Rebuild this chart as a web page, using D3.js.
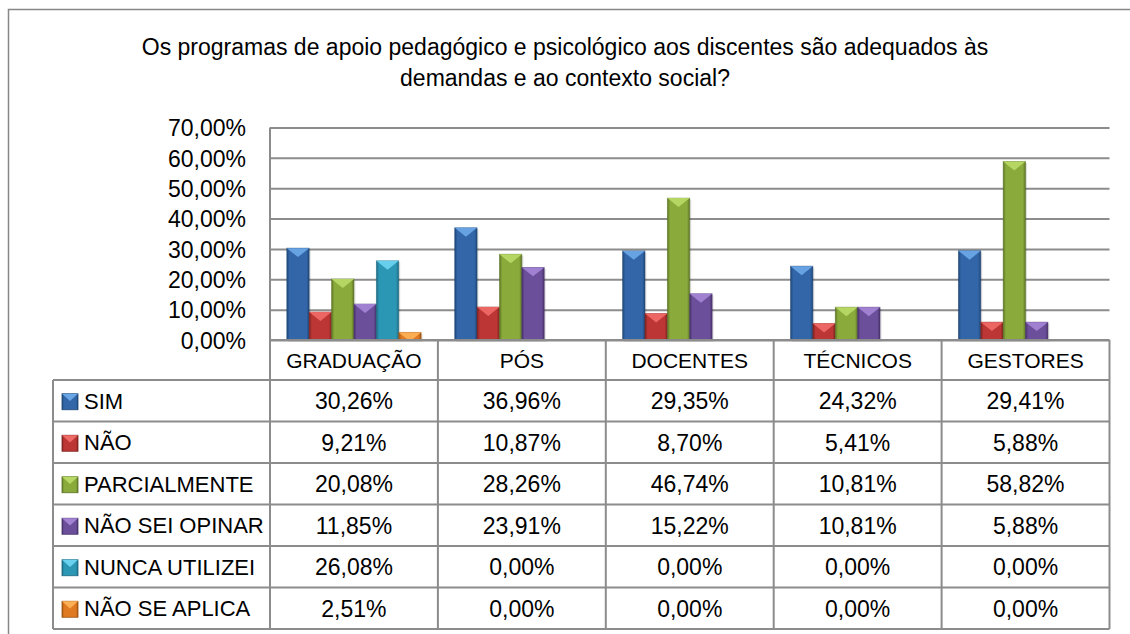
<!DOCTYPE html>
<html>
<head>
<meta charset="utf-8">
<script src="https://cdn.jsdelivr.net/npm/d3@7"></script>
<style>
  body { margin: 0; background: #fff; }
  svg text { font-family: "Liberation Sans", Arial, sans-serif; fill: #000; }
</style>
</head>
<body>
<div id="chart"></div>
<script>
// data
const categories = ["GRADUAÇÃO", "PÓS", "DOCENTES", "TÉCNICOS", "GESTORES"];
const seriesNames = ["SIM", "NÃO", "PARCIALMENTE", "NÃO SEI OPINAR", "NUNCA UTILIZEI", "NÃO SE APLICA"];
const sim = [30.26, 36.96, 29.35, 24.32, 29.41];
const nao = [9.21, 10.87, 8.70, 5.41, 5.88];
const parcialmente = [20.08, 28.26, 46.74, 10.81, 58.82];
const naoSeiOpinar = [11.85, 23.91, 15.22, 10.81, 5.88];
const nuncaUtilizei = [26.08, 0, 0, 0, 0];
const naoSeAplica = [2.51, 0, 0, 0, 0];
const yTicks = [0, 10, 20, 30, 40, 50, 60, 70];
const titleLines = [
  "Os programas de apoio pedagógico e psicológico aos discentes são adequados às",
  "demandas e ao contexto social?"
];

const seriesValues = [sim, nao, parcialmente, naoSeiOpinar, nuncaUtilizei, naoSeAplica];
// base, light (top bevel), dark (edges)
const colors = [
  { base: "#3266a8", light: "#6aa6e6", dark: "#1f4676" },
  { base: "#bb3634", light: "#ee6a66", dark: "#7d2220" },
  { base: "#8aaa3c", light: "#b8d865", dark: "#5c7324" },
  { base: "#6c4f9a", light: "#a283d4", dark: "#47326a" },
  { base: "#2c97b5", light: "#6ad2ee", dark: "#1b6880" },
  { base: "#e07a22", light: "#fbb056", dark: "#9c5210" }
];

const W = 1130, H = 634;
const plotLeft = 270, plotRight = 1109.5, plotTop = 127.5, plotBottom = 340;
const tableLeft = 53, rowH = 41.5, headBottom = 380;

const loc = d3.formatLocale({ decimal: ",", thousands: ".", grouping: [3], currency: ["", ""] });
const fmt = v => loc.format(".2f")(v) + "%";

const svg = d3.select("#chart").append("svg")
  .attr("width", W).attr("height", H);

const defs = svg.append("defs");
colors.forEach((c, i) => {
  const g = defs.append("linearGradient").attr("id", "grad" + i)
    .attr("x1", "0").attr("x2", "1").attr("y1", "0").attr("y2", "0");
  g.append("stop").attr("offset", "0%").attr("stop-color", c.dark);
  g.append("stop").attr("offset", "12%").attr("stop-color", c.base);
  g.append("stop").attr("offset", "50%").attr("stop-color", c.base);
  g.append("stop").attr("offset", "88%").attr("stop-color", c.base);
  g.append("stop").attr("offset", "100%").attr("stop-color", c.dark);
});

// outer frame
svg.append("rect")
  .attr("x", 8.5).attr("y", 9.5).attr("width", W).attr("height", H)
  .attr("fill", "none").attr("stroke", "#878787").attr("stroke-width", 1.5);

// title
svg.append("g").selectAll("text").data(titleLines).enter().append("text")
  .attr("x", 565).attr("y", (d, i) => 55 + i * 31)
  .attr("text-anchor", "middle")
  .style("font-size", "23px")
  .text(d => d);

const x = d3.scaleBand().domain(categories).range([plotLeft, plotRight]);
const xs = d3.scaleBand().domain(seriesNames).range([0, x.bandwidth()]).paddingOuter(0.75);
const y = d3.scaleLinear().domain([0, 70]).range([plotBottom, plotTop]);

// gridlines + y labels
const yAxis = svg.append("g")
  .attr("transform", `translate(${plotLeft},0)`)
  .call(d3.axisLeft(y).tickValues(yTicks).tickFormat(fmt)
    .tickSize(-(plotRight - plotLeft)).tickPadding(24));
yAxis.select(".domain").remove();
yAxis.selectAll(".tick line").attr("stroke", "#8c8c8c").attr("stroke-width", 2);
yAxis.selectAll(".tick text").style("font-size", "23px").attr("dy", "0.36em");

svg.append("line")
  .attr("x1", plotLeft).attr("x2", plotLeft).attr("y1", plotTop).attr("y2", plotBottom)
  .attr("stroke", "#8c8c8c").attr("stroke-width", 2);

// bars
const bars = [];
seriesValues.forEach((vals, si) => {
  vals.forEach((v, ci) => {
    bars.push({ s: si, c: categories[ci], v: v });
  });
});
const bw = xs.bandwidth();
const barG = svg.append("g");
bars.filter(d => d.v > 0).forEach(d => {
  const bx = x(d.c) + xs(seriesNames[d.s]);
  const by = y(d.v);
  const bh = y(0) - by;
  const col = colors[d.s];
  const g = barG.append("g");
  // soft shadow
  g.append("rect").attr("x", bx + 1.5).attr("y", by + 1.5).attr("width", bw).attr("height", bh)
    .attr("fill", "#000").attr("opacity", 0.12);
  g.append("rect").attr("x", bx).attr("y", by).attr("width", bw).attr("height", bh)
    .attr("fill", `url(#grad${d.s})`)
    .attr("stroke", col.dark).attr("stroke-width", 0.8).attr("stroke-opacity", 0.6);
  const d0 = bw * 0.4;
  let pts;
  if (bh >= d0) {
    pts = [[bx, by], [bx + bw, by], [bx + bw / 2, by + d0]];
  } else {
    const hw = (bw / 2) * (1 - bh / d0);
    pts = [[bx, by], [bx + bw, by], [bx + bw / 2 + hw, by + bh], [bx + bw / 2 - hw, by + bh]];
  }
  g.append("path").attr("d", d3.line()(pts) + "Z").attr("fill", col.light).attr("opacity", 0.95);
});

// data table
const tbl = svg.append("g").attr("stroke", "#8c8c8c").attr("stroke-width", 2).attr("fill", "none");
const nRows = seriesNames.length;
const tableBottom = headBottom + nRows * rowH;
// horizontal lines
tbl.append("line").attr("x1", plotLeft).attr("x2", plotRight).attr("y1", plotBottom).attr("y2", plotBottom);
d3.range(nRows + 1).forEach(r => {
  const yy = headBottom + r * rowH;
  tbl.append("line").attr("x1", tableLeft).attr("x2", plotRight).attr("y1", yy).attr("y2", yy);
});
// vertical lines
tbl.append("line").attr("x1", tableLeft).attr("x2", tableLeft).attr("y1", headBottom).attr("y2", tableBottom);
categories.forEach(c => {
  tbl.append("line").attr("x1", x(c)).attr("x2", x(c)).attr("y1", plotBottom).attr("y2", tableBottom);
});
tbl.append("line").attr("x1", plotRight).attr("x2", plotRight).attr("y1", plotBottom).attr("y2", tableBottom);

// category header
svg.append("g").selectAll("text").data(categories).enter().append("text")
  .attr("x", d => x(d) + x.bandwidth() / 2)
  .attr("y", (plotBottom + headBottom) / 2)
  .attr("dy", "0.36em")
  .attr("text-anchor", "middle")
  .style("font-size", "21px")
  .text(d => d);

// rows
seriesNames.forEach((name, si) => {
  const cy = headBottom + si * rowH + rowH / 2;
  const col = colors[si];
  const kx = 62, ks = 16;
  const k = svg.append("g");
  k.append("rect").attr("x", kx).attr("y", cy - 7).attr("width", ks).attr("height", ks)
    .attr("fill", `url(#grad${si})`).attr("stroke", col.dark).attr("stroke-width", 0.8);
  k.append("path")
    .attr("d", d3.line()([[kx, cy - 7], [kx + ks, cy - 7], [kx + ks / 2, cy - 7 + ks * 0.45]]) + "Z")
    .attr("fill", col.light);
  svg.append("text").attr("x", 84).attr("y", cy).attr("dy", "0.36em")
    .style("font-size", "22px").text(name);
  seriesValues[si].forEach((v, ci) => {
    svg.append("text")
      .attr("x", x(categories[ci]) + x.bandwidth() / 2)
      .attr("y", cy).attr("dy", "0.36em")
      .attr("text-anchor", "middle")
      .style("font-size", "23px")
      .text(fmt(v));
  });
});
</script>
</body>
</html>
